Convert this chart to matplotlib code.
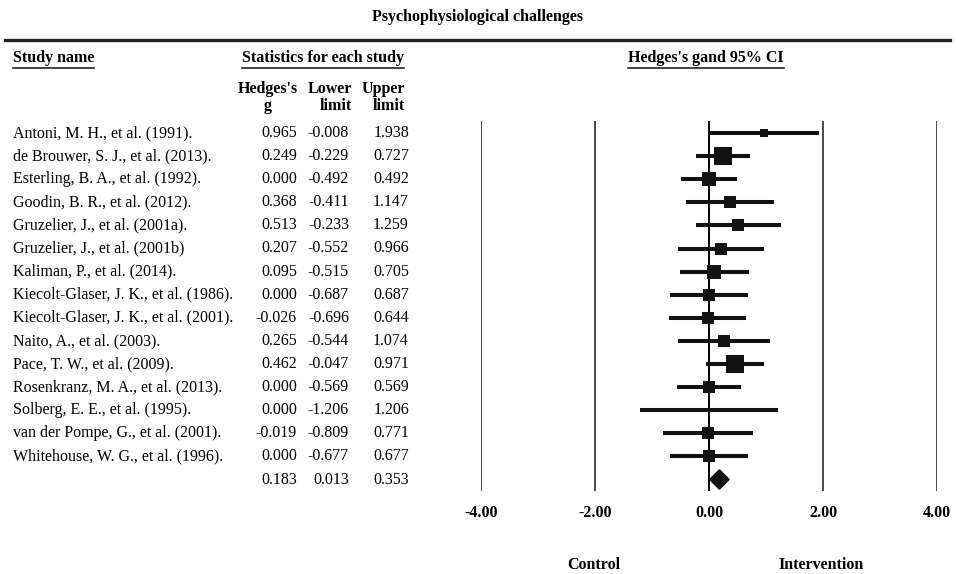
import numpy as np
import matplotlib
matplotlib.use('Agg')
import matplotlib.pyplot as plt
from matplotlib.transforms import blended_transform_factory
from matplotlib.lines import Line2D
from matplotlib.patches import Polygon

plt.rcParams['font.family'] = ['Liberation Serif', 'DejaVu Serif']

# data
studies = [
    "Antoni, M. H., et al. (1991).",
    "de Brouwer, S. J., et al. (2013).",
    "Esterling, B. A., et al. (1992).",
    "Goodin, B. R., et al. (2012).",
    "Gruzelier, J., et al. (2001a).",
    "Gruzelier, J., et al. (2001b)",
    "Kaliman, P., et al. (2014).",
    "Kiecolt-Glaser, J. K., et al. (1986).",
    "Kiecolt-Glaser, J. K., et al. (2001).",
    "Naito, A., et al. (2003).",
    "Pace, T. W., et al. (2009).",
    "Rosenkranz, M. A., et al. (2013).",
    "Solberg, E. E., et al. (1995).",
    "van der Pompe, G., et al. (2001).",
    "Whitehouse, W. G., et al. (1996).",
]
hedges_g = [0.965, 0.249, 0.000, 0.368, 0.513, 0.207, 0.095, 0.000,
            -0.026, 0.265, 0.462, 0.000, 0.000, -0.019, 0.000]
lower = [-0.008, -0.229, -0.492, -0.411, -0.233, -0.552, -0.515, -0.687,
         -0.696, -0.544, -0.047, -0.569, -1.206, -0.809, -0.677]
upper = [1.938, 0.727, 0.492, 1.147, 1.259, 0.966, 0.705, 0.687,
         0.644, 1.074, 0.971, 0.569, 1.206, 0.771, 0.677]
# relative weights (%), estimated from the square sizes
rel_weight = [3.3, 13.3, 8.0, 5.9, 6.9, 5.9, 9.2, 5.0,
              5.0, 5.9, 13.3, 6.4, 1.0, 5.0, 5.0]
summary_g, summary_lo, summary_hi = 0.183, 0.013, 0.353
ticks = [-4, -2, 0, 2, 4]
tick_labels = ['-4.00', '-2.00', '0.00', '2.00', '4.00']

W, H = 956, 574
fig = plt.figure(figsize=(W / 100, H / 100), dpi=100)

def fx(px):
    return px / W

def fy(py):
    return 1 - py / H

n = len(studies) + 1
row_px = 23.1
top = 133 - row_px / 2
bottom = top + n * row_px
ax = fig.add_axes([fx(481), fy(bottom), (937 - 481) / W, (bottom - top) / H])
ax.set_xlim(-4, 4)
ax.set_ylim(n - 0.5, -0.5)

# reference lines
for t in ticks:
    if t == 0:
        ax.axvline(0, color='black', lw=1.4, zorder=1)
    else:
        ax.axvline(t, color='#4a4a4a', lw=1.4, zorder=1)

# study CIs and weighted squares
ms = 3.55 * np.sqrt(rel_weight)
for i in range(len(studies)):
    ax.plot([lower[i], upper[i]], [i, i], color='#111111', lw=2.9,
            solid_capstyle='butt', zorder=2)
    ax.plot(hedges_g[i], i, marker='s', ms=ms[i], mew=0, color='#111111',
            zorder=3)

# summary diamond
k = n - 1
ax.add_patch(Polygon([(summary_lo, k), (summary_g, k - 0.42),
                      (summary_hi, k), (summary_g, k + 0.42)],
                     closed=True, color='#111111', zorder=3))

fs = 11.5
ax.set_xticks(ticks, tick_labels)
ax.set_yticks([])
ax.tick_params(axis='x', length=0, pad=10, labelsize=fs)
for lab in ax.get_xticklabels():
    lab.set_fontweight('bold')
for s in ax.spines.values():
    s.set_visible(False)

# left table
tr = blended_transform_factory(fig.transFigure, ax.transData)
for i, name in enumerate(studies):
    fig.text(fx(13), i, name, transform=tr, va='center', fontsize=fs)
    fig.text(fx(297), i, f"{hedges_g[i]:.3f}", transform=tr, va='center',
             ha='right', fontsize=fs)
    fig.text(fx(349), i, f"{lower[i]:.3f}", transform=tr, va='center',
             ha='right', fontsize=fs)
    fig.text(fx(409), i, f"{upper[i]:.3f}", transform=tr, va='center',
             ha='right', fontsize=fs)
fig.text(fx(297), k, f"{summary_g:.3f}", transform=tr, va='center',
         ha='right', fontsize=fs)
fig.text(fx(349), k, f"{summary_lo:.3f}", transform=tr, va='center',
         ha='right', fontsize=fs)
fig.text(fx(409), k, f"{summary_hi:.3f}", transform=tr, va='center',
         ha='right', fontsize=fs)

# headers
fig.text(fx(478), fy(17), "Psychophysiological challenges", ha='center',
         va='center', fontsize=fs, fontweight='bold')
fig.add_artist(Line2D([fx(5), fx(950)], [fy(40), fy(40)], color='#222222',
                      lw=2.4))

heads = [
    fig.text(fx(13), fy(58), "Study name", ha='left', va='center',
             fontsize=fs, fontweight='bold'),
    fig.text(fx(323), fy(58), "Statistics for each study", ha='center',
             va='center', fontsize=fs, fontweight='bold'),
    fig.text(fx(706), fy(58), "Hedges's gand 95% CI", ha='center',
             va='center', fontsize=fs, fontweight='bold'),
]
fig.text(fx(298), fy(97.5), "Hedges's\ng", ha='right', va='center',
         multialignment='center', fontsize=fs, fontweight='bold',
         linespacing=1.1)
fig.text(fx(352), fy(97.5), "Lower\nlimit", ha='right', va='center',
         multialignment='right', fontsize=fs, fontweight='bold',
         linespacing=1.1)
fig.text(fx(405), fy(97.5), "Upper\nlimit", ha='right', va='center',
         multialignment='right', fontsize=fs, fontweight='bold',
         linespacing=1.1)

fig.text(fx(594), fy(565), "Control", ha='center', va='center',
         fontsize=fs, fontweight='bold')
fig.text(fx(821), fy(565), "Intervention", ha='center', va='center',
         fontsize=fs, fontweight='bold')

# underline the section headers
renderer = fig.canvas.get_renderer()
for t in heads:
    bb = t.get_window_extent(renderer)
    yy = (bb.y0 - 1.5) / H
    fig.add_artist(Line2D([bb.x0 / W, bb.x1 / W], [yy, yy], color='#222222',
                          lw=1.2))

fig.savefig('out.png', dpi=100)
